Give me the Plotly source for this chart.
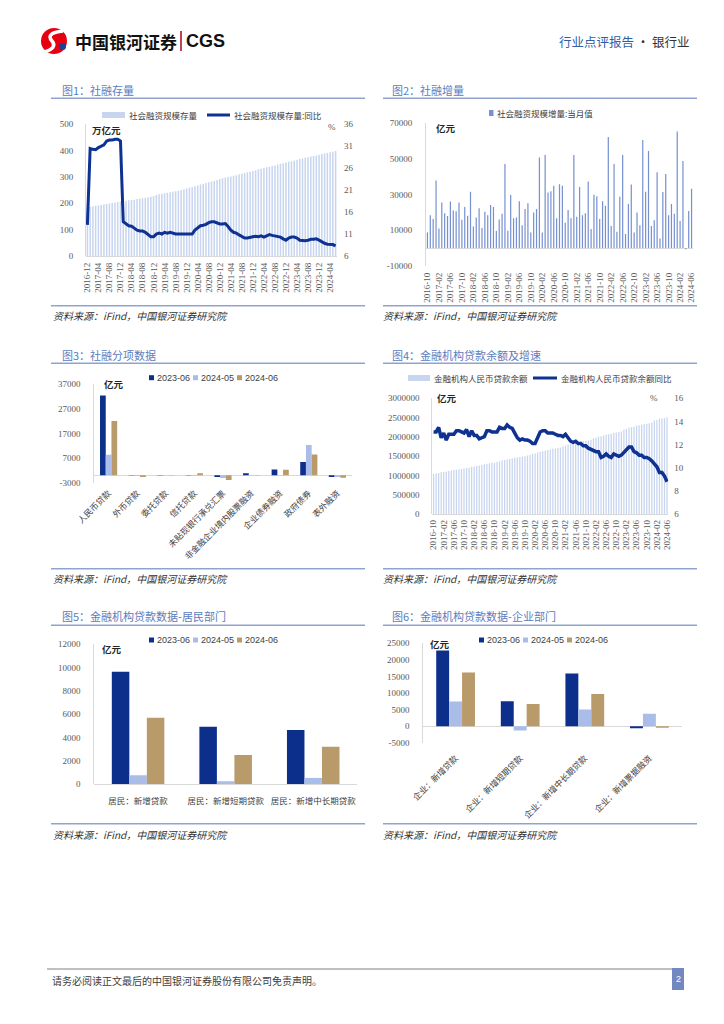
import plotly.graph_objects as go
import pandas as pd

# ------------------------------------------------------------------ data
# Fig 1: social financing stock (万亿元) and yoy (%), 2016-12 .. 2024-06
months1 = [p.strftime("%Y-%m") for p in pd.period_range("2016-12", "2024-06", freq="M")]
tsf_stock = [185,
             187, 189, 191, 192, 194, 196, 197, 199, 201, 203, 205, 207,
             209, 210, 212, 213, 214, 216, 217, 219, 221, 223, 225, 228,
             232, 234, 236, 238, 240, 242, 244, 246, 248, 251, 253, 256,
             259, 262, 265, 268, 271, 274, 277, 280, 283, 286, 289, 292,
             295, 297, 300, 302, 305, 307, 310, 312, 315, 318, 320, 323,
             326, 329, 331, 334, 337, 339, 342, 344, 347, 350, 352, 355,
             358, 360, 363, 365, 368, 370, 373, 375, 378, 380, 382, 384,
             387, 389, 391, 394, 396, 399]
tsf_yoy = [13.1,
           30.5, 30.3, 30.2, 30.7, 31.1, 31.3, 32.2, 32.4, 32.4, 32.6, 32.6, 32.2,
           13.8, 13.4, 12.9, 12.8, 12.3, 11.9, 11.7, 11.7, 11.4, 11.0, 10.4, 10.4,
           11.0, 11.2, 11.0, 11.4, 11.2, 11.4, 11.2, 11.0, 11.0, 11.0, 11.0, 11.0,
           11.0, 11.0, 11.9, 12.4, 12.9, 13.0, 13.2, 13.6, 13.8, 13.8, 13.6, 13.3,
           13.3, 13.4, 12.7, 11.9, 11.4, 11.2, 10.8, 10.4, 10.1, 10.1, 10.3, 10.4,
           10.5, 10.4, 10.6, 10.3, 10.6, 10.9, 10.7, 10.6, 10.5, 10.3, 9.9, 9.6,
           10.1, 10.3, 10.3, 10.1, 9.6, 9.5, 9.5, 9.6, 9.8, 9.8, 9.9, 9.6,
           9.2, 8.9, 8.7, 8.7, 8.6, 8.3]
ticks1 = ["2016-12", "2017-04", "2017-08", "2017-12", "2018-04", "2018-08", "2018-12",
          "2019-04", "2019-08", "2019-12", "2020-04", "2020-08", "2020-12", "2021-04",
          "2021-08", "2021-12", "2022-04", "2022-08", "2022-12", "2023-04", "2023-08",
          "2023-12", "2024-04"]
y1_ticks = [0, 100, 200, 300, 400, 500]
y1r_ticks = [6, 11, 16, 21, 26, 31, 36]

# Fig 2: monthly social financing increment (亿元), 2016-10 .. 2024-06
months2 = [p.strftime("%Y-%m") for p in pd.period_range("2016-10", "2024-06", freq="M")]
tsf_flow = [8750, 18400, 16200,
            37800, 11000, 25500, 19500, 17900, 26000, 21000, 20500, 25500, 15800, 22900, 18050,
            31450, 12100, 17100, 22300, 11200, 20300, 18400, 24000, 22900, 9500, 16000, 19200,
            46900, 9700, 29600, 16600, 17100, 26200, 12800, 21800, 25100, 8750, 19900, 21800,
            50600, 8750, 51900, 31100, 31800, 34800, 16600, 35700, 34800, 14100, 21200, 16600,
            51900, 17500, 34100, 18400, 19400, 37200, 10600, 29800, 29000, 16200, 26200, 23600,
            62000, 12300, 46900, 9100, 28700, 51900, 7800, 24600, 35500, 8750, 19900, 12800,
            60300, 31450, 54200, 12300, 15600, 42400, 5400, 31300, 41300, 18400, 24600, 19200,
            65100, 15100, 48600, -658, 20700, 33100]
ticks2 = ["2016-10", "2017-02", "2017-06", "2017-10", "2018-02", "2018-06", "2018-10",
          "2019-02", "2019-06", "2019-10", "2020-02", "2020-06", "2020-10", "2021-02",
          "2021-06", "2021-10", "2022-02", "2022-06", "2022-10", "2023-02", "2023-06",
          "2023-10", "2024-02", "2024-06"]
y2_ticks = [-10000, 10000, 30000, 50000, 70000]

# Fig 3: social financing components (亿元)
series_names = ["2023-06", "2024-05", "2024-06"]
cats3 = ["人民币贷款", "外币贷款", "委托贷款", "信托贷款", "未贴现银行承兑汇票",
         "非金融企业境内股票融资", "企业债券融资", "政府债券", "表外融资"]
d3_2306 = [32400, -100, -50, -100, -700, 800, 2400, 5400, -700]
d3_2405 = [8400, -300, -100, -200, -1100, 100, 100, 12300, -700]
d3_2406 = [22100, -700, -50, 800, -1900, 100, 2300, 8500, -1000]
y3_ticks = [-3000, 7000, 17000, 27000, 37000]

# Fig 4: RMB loan balance (亿元) and yoy (%), 2016-10 .. 2024-06
loan_bal = [1047000, 1054000, 1066000,
            1086000, 1097000, 1108000, 1119000, 1130000, 1145000, 1154000, 1165000, 1178000, 1185000, 1196000, 1201000,
            1230000, 1238000, 1250000, 1262000, 1274000, 1292000, 1306000, 1319000, 1333000, 1340000, 1352000, 1363000,
            1396000, 1405000, 1422000, 1432000, 1444000, 1461000, 1468000, 1480000, 1497000, 1504000, 1518000, 1531000,
            1564000, 1573000, 1602000, 1619000, 1634000, 1652000, 1662000, 1676000, 1695000, 1702000, 1716000, 1727000,
            1763000, 1776000, 1803000, 1818000, 1833000, 1855000, 1864000, 1877000, 1894000, 1902000, 1915000, 1927000,
            1967000, 1979000, 2010000, 2017000, 2035000, 2064000, 2071000, 2084000, 2108000, 2115000, 2128000, 2140000,
            2189000, 2207000, 2246000, 2253000, 2266000, 2297000, 2300000, 2313000, 2336000, 2343000, 2354000, 2376000,
            2425000, 2440000, 2471000, 2478000, 2487000, 2508000]
loan_yoy = [13.1, 13.1, 13.5,
            12.6, 13.0, 12.4, 12.9, 12.9, 12.9, 13.2, 13.2, 13.1, 13.0, 13.3, 12.7,
            13.2, 12.8, 12.8, 12.5, 12.6, 12.7, 13.2, 13.2, 13.1, 13.1, 13.1, 13.5,
            13.4, 13.4, 13.7, 13.5, 13.4, 13.0, 12.6, 12.4, 12.5, 12.4, 12.4, 12.3,
            12.1, 12.1, 12.7, 13.1, 13.2, 13.2, 13.0, 13.0, 13.0, 12.9, 12.8, 12.8,
            12.7, 12.9, 12.6, 12.3, 12.2, 12.3, 12.1, 12.1, 11.9, 11.9, 11.7, 11.6,
            11.5, 11.4, 11.4, 10.9, 11.0, 11.2, 11.0, 10.9, 11.2, 11.1, 11.0, 11.1,
            11.3, 11.6, 11.8, 11.8, 11.4, 11.3, 11.1, 11.1, 10.9, 10.9, 10.8, 10.6,
            10.4, 10.1, 9.6, 9.6, 9.3, 8.8]
y4_ticks = [0, 500000, 1000000, 1500000, 2000000, 2500000, 3000000]
y4r_ticks = [6, 8, 10, 12, 14, 16]

# Fig 5: household loans (亿元)
cats5 = ["居民：新增贷款", "居民：新增短期贷款", "居民：新增中长期贷款"]
d5_2306 = [9639, 4928, 4630]
d5_2405 = [757, 233, 522]
d5_2406 = [5700, 2500, 3200]
y5_ticks = [0, 2000, 4000, 6000, 8000, 10000, 12000]

# Fig 6: corporate loans (亿元)
cats6 = ["企业：新增贷款", "企业：新增短期贷款", "企业：新增中长期贷款", "企业：新增票据融资"]
d6_2306 = [22800, 7500, 15900, -665]
d6_2405 = [7400, -1300, 5000, 3700]
d6_2406 = [16200, 6700, 9700, -500]
y6_ticks = [-5000, 0, 5000, 10000, 15000, 20000, 25000]

# ------------------------------------------------------------------ style
W, H = 724, 1024
def PX(x): return x / W
def PY(y): return 1 - y / H

C_NAVY = "#0b2f8a"
C_LIGHT = "#a9bde8"
C_TAN = "#b99a6b"
C_LINE = "#0e3192"
C_BAR1 = "#c8d5ef"
C_BAR2 = "#7690d0"
C_TITLE = "#5a7cc0"
C_RULE = "#8fa3cf"
CJK = "Noto Sans CJK SC"
NUMF = "Liberation Serif, Noto Sans CJK SC"
TICKFONT = dict(family=NUMF, size=9, color="#595959")
CATFONT = dict(family=CJK, size=8.5, color="#404040")
AXC = "#d9d9d9"
series_colors = [C_NAVY, C_LIGHT, C_TAN]

def fmt(v):
    return str(v)

def ydom(top, bot):
    return [PY(bot), PY(top)]

def xdom(l, r):
    return [PX(l), PX(r)]

fig = go.Figure()

# Fig 1
fig.add_trace(go.Bar(x=months1, y=tsf_stock, xaxis="x", yaxis="y", marker_color=C_BAR1,
                     marker_line_width=0, width=0.55, hoverinfo="skip", showlegend=False))
fig.add_trace(go.Scatter(x=months1, y=tsf_yoy, xaxis="x", yaxis="y7", mode="lines",
                         line=dict(color=C_LINE, width=3), hoverinfo="skip", showlegend=False))
# Fig 2
fig.add_trace(go.Bar(x=months2, y=tsf_flow, xaxis="x2", yaxis="y2", marker_color=C_BAR2,
                     marker_line_width=0, width=0.42, hoverinfo="skip", showlegend=False))
# Fig 3
for name, vals, col in zip(series_names, [d3_2306, d3_2405, d3_2406], series_colors):
    fig.add_trace(go.Bar(x=cats3, y=vals, xaxis="x3", yaxis="y3", marker_color=col, name=name,
                         marker_line_width=0, hoverinfo="skip", showlegend=False))
# Fig 4
fig.add_trace(go.Bar(x=months2, y=loan_bal, xaxis="x4", yaxis="y4", marker_color=C_BAR1,
                     marker_line_width=0, width=0.5, hoverinfo="skip", showlegend=False))
fig.add_trace(go.Scatter(x=months2, y=loan_yoy, xaxis="x4", yaxis="y8", mode="lines",
                         line=dict(color=C_LINE, width=3.5), hoverinfo="skip", showlegend=False))
# Fig 5
for name, vals, col in zip(series_names, [d5_2306, d5_2405, d5_2406], series_colors):
    fig.add_trace(go.Bar(x=cats5, y=vals, xaxis="x5", yaxis="y5", marker_color=col, name=name,
                         marker_line_width=0, hoverinfo="skip", showlegend=False))
# Fig 6
for name, vals, col in zip(series_names, [d6_2306, d6_2405, d6_2406], series_colors):
    fig.add_trace(go.Bar(x=cats6, y=vals, xaxis="x6", yaxis="y6", marker_color=col, name=name,
                         marker_line_width=0, hoverinfo="skip", showlegend=False))

def yaxis(dom, rng, ticks, anchor, side="left", overlaying=None, line=True, zero=False, standoff=9):
    d = dict(domain=dom, range=rng, tickvals=ticks, ticktext=[fmt(t) for t in ticks],
             anchor=anchor, side=side, showgrid=False, ticks="", tickfont=TICKFONT,
             showline=line, linecolor=AXC, linewidth=1, zeroline=zero, zerolinecolor=AXC,
             zerolinewidth=1, ticklabelstandoff=standoff, fixedrange=True, automargin=False)
    if overlaying:
        d["overlaying"] = overlaying
    return d

def xaxis(dom, anchor, tickvals=None, angle=0, font=TICKFONT, standoff=3):
    d = dict(domain=dom, anchor=anchor, type="category", showgrid=False, ticks="",
             showline=False, zeroline=False, tickangle=angle, tickfont=font,
             ticklabelstandoff=standoff, fixedrange=True, automargin=False)
    if tickvals is not None:
        d["tickvals"] = tickvals
        d["ticktext"] = tickvals
    return d

layout = dict(
    width=W, height=H, autosize=False,
    margin=dict(l=0, r=0, t=0, b=0, pad=0, autoexpand=False),
    paper_bgcolor="white", plot_bgcolor="rgba(0,0,0,0)",
    barmode="group", bargap=0.4, bargroupgap=0,
    hovermode=False, showlegend=False,
    font=dict(family=CJK, size=9, color="#404040"),
    xaxis=xaxis(xdom(86, 337), "y", ticks1, -90, standoff=4),
    yaxis=yaxis(ydom(124.3, 256), [0, 500], y1_ticks, "x", zero=True, standoff=10),
    yaxis7=yaxis(ydom(124.3, 256), [6, 36], y1r_ticks, "x", side="right", overlaying="y",
                 line=False, standoff=6),
    xaxis2=xaxis(xdom(426, 693), "y2", ticks2, -90, standoff=4),
    yaxis2=yaxis(ydom(122.7, 266), [-10000, 70000], y2_ticks, "x2", zero=True, standoff=11),
    xaxis3=xaxis(xdom(94.3, 351.7), "y3", None, -45, CATFONT, standoff=3),
    yaxis3=yaxis(ydom(384.3, 482.7), [-3000, 37000], y3_ticks, "x3", zero=True, standoff=11),
    xaxis4=xaxis(xdom(432.3, 668.3), "y4", ticks2, -90, standoff=3),
    yaxis4=yaxis(ydom(398.3, 514.3), [0, 3000000], y4_ticks, "x4", zero=True, standoff=10),
    yaxis8=yaxis(ydom(398.3, 514.3), [6, 16], y4r_ticks, "x4", side="right", overlaying="y4",
                 line=False, standoff=5),
    xaxis5=xaxis(xdom(94.3, 357), "y5", None, 0, dict(family=CJK, size=8.5, color="#404040"), standoff=10),
    yaxis5=yaxis(ydom(644.3, 784), [0, 12000], y5_ticks, "x5", zero=True, standoff=11),
    xaxis6=xaxis(xdom(423.3, 681.7), "y6", None, -45, CATFONT, standoff=8),
    yaxis6=yaxis(ydom(643.3, 742.7), [-5000, 25000], y6_ticks, "x6", zero=True, standoff=11),
)
fig.update_layout(**layout)

shapes = []
ann = []

def text(x, y, s, size=9, color="#404040", family=CJK, xanchor="left", yanchor="middle"):
    ann.append(dict(x=PX(x), y=PY(y), xref="paper", yref="paper", text=s, showarrow=False,
                    xanchor=xanchor, yanchor=yanchor, font=dict(size=size, color=color, family=family)))

def hline(x0, x1, y, color, width):
    shapes.append(dict(type="line", xref="paper", yref="paper", x0=PX(x0), x1=PX(x1),
                       y0=PY(y), y1=PY(y), line=dict(color=color, width=width)))

def rect(x0, y0, x1, y1, color):
    shapes.append(dict(type="rect", xref="paper", yref="paper", x0=PX(x0), x1=PX(x1),
                       y0=PY(y1), y1=PY(y0), fillcolor=color, line=dict(width=0)))

# ---------------- header
shapes.append(dict(type="circle", xref="paper", yref="paper", x0=PX(41), x1=PX(67),
                   y0=PY(54), y1=PY(28), fillcolor="#e60012", line=dict(width=0)))
shapes.append(dict(type="path", xref="paper", yref="paper",
                   path=f"M {PX(63)},{PY(31)} Q {PX(45)},{PY(33)} {PX(52)},{PY(41)} "
                        f"Q {PX(58)},{PY(48)} {PX(44)},{PY(52)}",
                   line=dict(color="white", width=3.5)))
shapes.append(dict(type="circle", xref="paper", yref="paper", x0=PX(59), x1=PX(66),
                   y0=PY(50), y1=PY(43), fillcolor="#1d3f94", line=dict(width=0)))
text(73, 41, "<b>中国银河证券</b>", size=17, color="#111111")
shapes.append(dict(type="line", xref="paper", yref="paper", x0=PX(181), x1=PX(181),
                   y0=PY(51), y1=PY(31), line=dict(color="#b0001a", width=1.5)))
text(184, 41, "<b>CGS</b>", size=18, color="#111111", family="Liberation Sans")
text(692, 41, "<span style='color:#2f5ea8'>行业点评报告</span> · 银行业", size=12.5,
     color="#333333", xanchor="right")

# ---------------- panel frames, titles, sources
titles = [(60, 90, "图1：社融存量"), (390, 90, "图2：社融增量"),
          (60, 355, "图3：社融分项数据"), (390, 355, "图4：金融机构贷款余额及增速"),
          (60, 616, "图5：金融机构贷款数据-居民部门"), (390, 616, "图6：金融机构贷款数据-企业部门")]
for x, y, s in titles:
    text(x, y, s, size=11, color=C_TITLE)
for y in [98.3, 363.3, 625.3]:
    hline(51, 365, y, C_RULE, 1.5)
    hline(383, 697, y, C_RULE, 1.5)
for y in [305.7, 568.7, 823.7]:
    hline(51, 365, y, C_RULE, 1.5)
    hline(383, 697, y, C_RULE, 1.5)
src = "<i>资料来源：iFind，中国银河证券研究院</i>"
for y in [315, 578, 834]:
    text(51, y, src, size=10, color="#333333")
    text(381, y, src, size=10, color="#333333")

# ---------------- unit labels
text(90, 130, "<b>万亿元</b>", size=9.5, color="#262626")
text(326, 127, "%", size=9, color="#595959", family=NUMF)
text(434, 128, "<b>亿元</b>", size=9.5, color="#262626")
text(102, 384, "<b>亿元</b>", size=9.5, color="#262626")
text(435, 398, "<b>亿元</b>", size=9.5, color="#262626")
text(648, 398, "%", size=9, color="#595959", family=NUMF)
text(100, 649, "<b>亿元</b>", size=9.5, color="#262626")
text(428, 644, "<b>亿元</b>", size=9.5, color="#262626")

# ---------------- legends
# fig1
rect(102, 112, 125, 118, C_BAR1)
text(127, 115, "社会融资规模存量", size=8.5)
hline(207, 230, 115, C_LINE, 3)
text(232, 115, "社会融资规模存量:同比", size=8.5)
# fig2
rect(489, 110, 493.5, 116, C_BAR2)
text(495, 113, "社会融资规模增量:当月值", size=8.5)
# fig4
rect(408, 375, 430, 381, C_BAR1)
text(432, 378, "金融机构人民币贷款余额", size=8.5)
hline(533, 557, 378, C_LINE, 3)
text(559, 378, "金融机构人民币贷款余额同比", size=8.5)
# fig3/5/6
for x0, y0 in [(149, 377.7), (149, 640), (479, 640)]:
    for i, (name, col) in enumerate(zip(series_names, series_colors)):
        xs = x0 + i * 44
        rect(xs, y0 - 2.5, xs + 5, y0 + 2.5, col)
        text(xs + 6, y0, name, size=9, color="#404040", family="Liberation Sans")

# ---------------- footer
hline(47, 684, 969, "#808080", 1)
text(50, 980, "请务必阅读正文最后的中国银河证券股份有限公司免责声明。", size=10, color="#404040")
rect(672, 968, 684, 990, "#7189c0")
text(678, 979, "2", size=9, color="white", family="Liberation Sans", xanchor="center")

fig.update_layout(shapes=shapes, annotations=ann)
fig.write_html("out.html", config={"displayModeBar": False, "staticPlot": True},
               post_script="document.body.style.margin='0px';document.body.style.overflow='hidden';")
